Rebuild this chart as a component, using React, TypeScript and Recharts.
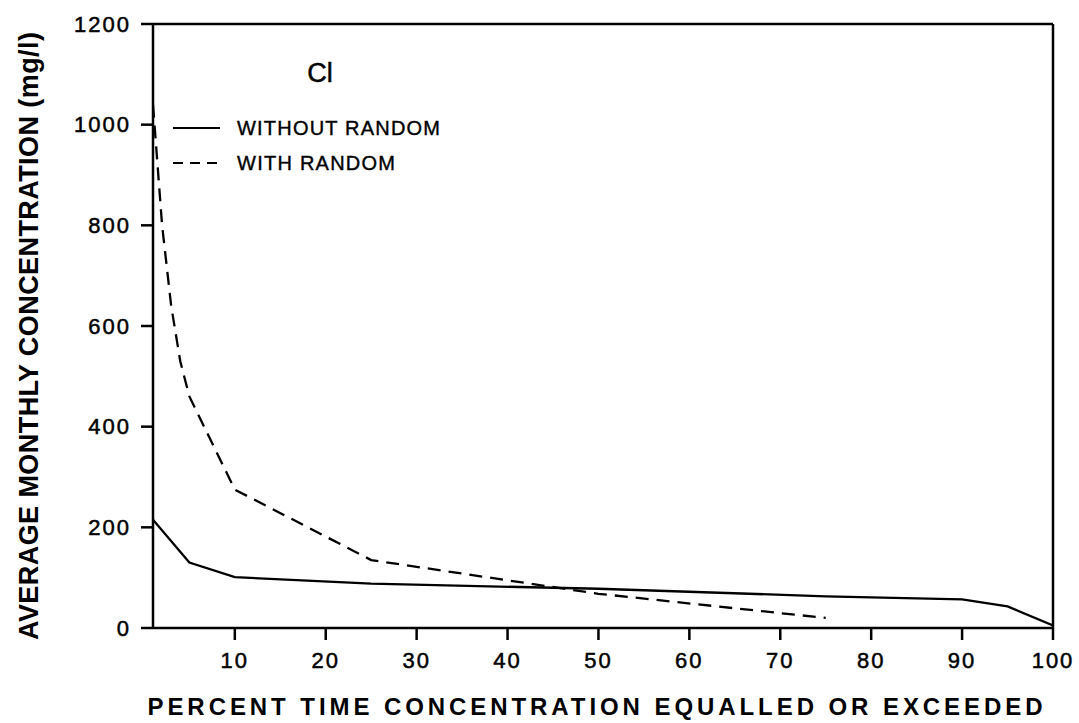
import { Line, LineChart, ReferenceLine, XAxis, YAxis } from "recharts";

// percent of time equalled or exceeded
const withoutPct = [1, 5, 10, 25, 50, 75, 90, 95, 100];
const withoutConc = [215, 130, 101, 88, 78, 63, 57, 43, 5];

const withPct = [1, 2, 3, 4, 5, 10, 25, 50, 75];
const withConc = [1040, 800, 640, 530, 460, 275, 135, 68, 20];

const xTicks = [10, 20, 30, 40, 50, 60, 70, 80, 90, 100];
const yTicks = [0, 200, 400, 600, 800, 1000, 1200];

const FONT = '"Liberation Sans", Arial, sans-serif';
const INK = "#000";

const withoutData = withoutPct.map((pct, i) => ({ pct, conc: withoutConc[i] }));
const withData = withPct.map((pct, i) => ({ pct, conc: withConc[i] }));

// title + key drawn over the plot, top-left corner
const ChartKey = () => (
  <svg
    width={320}
    height={130}
    style={{ position: "absolute", left: 160, top: 50, display: "block" }}
  >
    <text x={160} y={32} textAnchor="middle" fontSize={27} fontFamily={FONT} fill={INK} stroke={INK} strokeWidth={0.5}>
      Cl
    </text>
    <line x1={13} x2={60} y1={78} y2={78} stroke={INK} strokeWidth={2} />
    <text x={77} y={85} fontSize={20} fontFamily={FONT} fill={INK} stroke={INK} strokeWidth={0.4} textLength={203} lengthAdjust="spacing">
      WITHOUT  RANDOM
    </text>
    <line x1={13} x2={60} y1={113} y2={113} stroke={INK} strokeWidth={2} strokeDasharray="10 7" />
    <text x={77} y={120} fontSize={20} fontFamily={FONT} fill={INK} stroke={INK} strokeWidth={0.4} textLength={158} lengthAdjust="spacing">
      WITH  RANDOM
    </text>
  </svg>
);

const XTitle = ({ viewBox }: any) => (
  <text
    x={viewBox.x + viewBox.width / 2 - 8}
    y={viewBox.y + 87}
    textAnchor="middle"
    fontSize={24}
    fontWeight="bold"
    fontFamily={FONT}
    fill={INK}
    textLength={895}
    lengthAdjust="spacing"
  >
    PERCENT TIME CONCENTRATION EQUALLED OR EXCEEDED
  </text>
);

const YTitle = () => {
  const cx = 38;
  const cy = 336;
  return (
    <text
      x={cx}
      y={cy}
      transform={`rotate(-90 ${cx} ${cy})`}
      textAnchor="middle"
      fontSize={27}
      fontWeight="bold"
      fontFamily={FONT}
      fill={INK}
      textLength={608}
      lengthAdjust="spacing"
    >
      AVERAGE MONTHLY CONCENTRATION (mg/l)
    </text>
  );
};

const tickStyle = {
  fontSize: 22,
  fontFamily: FONT,
  fill: INK,
  stroke: INK,
  strokeWidth: 0.5,
  letterSpacing: 2,
};

export default function App() {
  return (
    <div style={{ position: "absolute", left: 0, top: 0, width: 1079, height: 723, background: "#fff" }}>
      <LineChart width={1079} height={723} margin={{ top: 24, right: 26, bottom: 35, left: 0 }}>
        <XAxis
          dataKey="pct"
          type="number"
          domain={[1, 100]}
          ticks={xTicks}
          allowDataOverflow
          height={60}
          tickSize={12}
          tickMargin={12}
          tick={tickStyle}
          axisLine={{ stroke: INK, strokeWidth: 2.5 }}
          tickLine={{ stroke: INK, strokeWidth: 2.5 }}
          label={<XTitle />}
        />
        <YAxis
          type="number"
          domain={[0, 1200]}
          ticks={yTicks}
          width={153}
          tickSize={12}
          tickMargin={10}
          tick={tickStyle}
          axisLine={{ stroke: INK, strokeWidth: 2.5 }}
          tickLine={{ stroke: INK, strokeWidth: 2.5 }}
          label={<YTitle />}
        />
        <ReferenceLine y={1200} stroke={INK} strokeWidth={2.5} />
        <ReferenceLine x={100} stroke={INK} strokeWidth={2.5} />
        <Line
          data={withoutData}
          dataKey="conc"
          type="linear"
          stroke={INK}
          strokeWidth={2.3}
          dot={false}
          isAnimationActive={false}
        />
        <Line
          data={withData}
          dataKey="conc"
          type="linear"
          stroke={INK}
          strokeWidth={2.3}
          strokeDasharray="13 8"
          dot={false}
          isAnimationActive={false}
        />
      </LineChart>
      <ChartKey />
    </div>
  );
}
